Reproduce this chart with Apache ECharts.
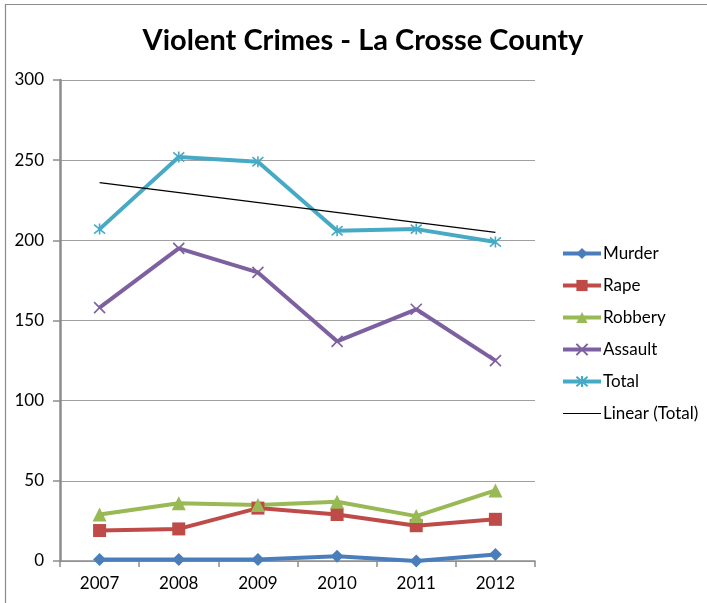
<!DOCTYPE html>
<html>
<head>
<meta charset="utf-8">
<script src="https://cdn.jsdelivr.net/npm/echarts@6/dist/echarts.min.js"></script>
<style>html,body{margin:0;padding:0;background:#fff}#c{width:707px;height:603px}</style>
</head>
<body>
<div id="c"></div>
<script>
var years = ['2007','2008','2009','2010','2011','2012'];
var murder = [1, 1, 1, 3, 0, 4];
var rape = [19, 20, 33, 29, 22, 26];
var robbery = [29, 36, 35, 37, 28, 44];
var assault = [158, 195, 180, 137, 157, 125];
var total = [207, 252, 249, 206, 207, 199];
var trendTotal = [236, null, null, null, null, 205];
var yTicks = [0, 50, 100, 150, 200, 250, 300];

var FONT = 'Lato';
var xPath = 'path://M0 0L10 10M10 0L0 10';
var starPath = 'path://M0 0L10 10M10 0L0 10M5 -1L5 11';

function mk(name, data, color, symbol, size, stroke) {
  return {
    name: name, type: 'line', data: data,
    symbol: symbol, symbolSize: size, showSymbol: true,
    lineStyle: {color: color, width: 4},
    itemStyle: stroke ? {color: color, borderColor: color, borderWidth: 1.6} : {color: color, borderWidth: 0},
    z: 3
  };
}

var chart = echarts.init(document.getElementById('c'), null, {renderer: 'canvas'});
chart.setOption({
  animation: false,
  backgroundColor: '#fff',
  title: {
    text: 'Violent Crimes - La Crosse County',
    left: 358, top: 21, textAlign: 'center',
    textStyle: {fontFamily: FONT, fontWeight: 'bold', fontSize: 29, color: '#000'}
  },
  graphic: [{
    type: 'rect', shape: {x: 5.5, y: 4.5, width: 720, height: 620},
    style: {fill: 'none', stroke: '#8c8c8c', lineWidth: 1.2}, silent: true, z: -1
  }],
  grid: {left: 60, right: 172, top: 80, bottom: 42, containLabel: false},
  legend: {
    orient: 'vertical', left: 561, top: 245, padding: 0,
    itemWidth: 38, itemHeight: 14, itemGap: 15,
    lineStyle: {width: 4},
    textStyle: {fontFamily: FONT, fontSize: 17, color: '#000', padding: [0, 0, 0, -3]},
    data: ['Murder', 'Rape', 'Robbery', 'Assault', 'Total',
      {name: 'Linear (Total)', itemStyle: {opacity: 0}, lineStyle: {width: 1.2}}]
  },
  xAxis: {
    type: 'category', data: years, boundaryGap: true,
    axisLine: {lineStyle: {color: '#8c8c8c', width: 1.5}},
    axisTick: {show: true, interval: 0, length: 6, lineStyle: {color: '#8c8c8c', width: 1.5}},
    axisLabel: {fontFamily: FONT, fontSize: 17, color: '#000', margin: 14},
    splitLine: {show: false}
  },
  yAxis: {
    type: 'value', min: yTicks[0], max: yTicks[yTicks.length - 1], interval: 50,
    axisLine: {show: true, lineStyle: {color: '#8c8c8c', width: 2.5}},
    axisTick: {show: true, length: 7, lineStyle: {color: '#8c8c8c', width: 1.5}},
    axisLabel: {fontFamily: FONT, fontSize: 17, color: '#000', margin: 16},
    splitLine: {show: true, lineStyle: {color: '#a0a0a0', width: 1.2}}
  },
  series: [
    mk('Murder', murder, '#4a7ebb', 'diamond', 13, false),
    mk('Rape', rape, '#be4b48', 'rect', 13, false),
    mk('Robbery', robbery, '#98b954', 'triangle', 14, false),
    mk('Assault', assault, '#7d60a0', xPath, 11, true),
    mk('Total', total, '#46aac5', starPath, 11, true),
    {
      name: 'Linear (Total)', type: 'line', data: trendTotal, connectNulls: true,
      symbol: 'none', showSymbol: false,
      lineStyle: {color: '#000', width: 1.2},
      itemStyle: {color: '#000'}, z: 4
    }
  ]
});
</script>
</body>
</html>
